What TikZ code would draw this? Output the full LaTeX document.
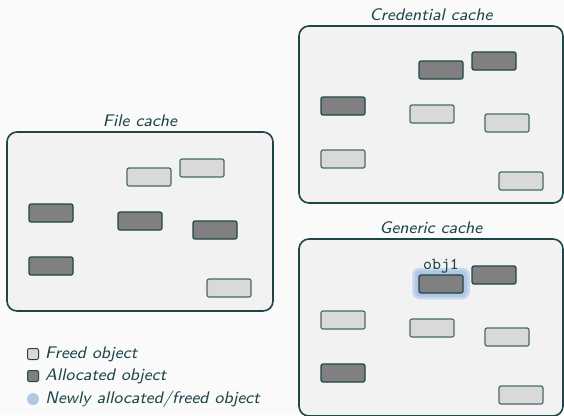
\documentclass[tikz,border=0pt]{standalone}
\usepackage{xcolor}
\usepackage{graphicx}
\usepackage{tikz}
\usetikzlibrary{positioning}
\definecolor{bgcolor}{RGB}{250,250,250}
\definecolor{cachefill}{RGB}{242,242,242}
\definecolor{darkteal}{RGB}{30,70,72}
\definecolor{objline}{RGB}{70,105,106}
\definecolor{freedfill}{RGB}{217,217,217}
\definecolor{allocfill}{RGB}{128,128,128}
\definecolor{newblue}{RGB}{178,198,230}
\newcommand{\captext}[1]{\scalebox{2.1}{\fontsize{8}{10}\selectfont\sffamily\itshape #1}}
\newcommand{\objtext}[1]{\scalebox{2.1}{\fontsize{8}{10}\selectfont\ttfamily #1}}

\begin{document}
\begin{tikzpicture}[x=1pt, y=-1pt,
        cachebox/.style={rectangle, rounded corners=10pt, draw=darkteal, fill=cachefill, line width=1.6pt, minimum width=264pt, minimum height=177pt, inner sep=0pt},
        cachetitle/.style={text=darkteal, inner sep=2pt},
        objbox/.style={rectangle, rounded corners=2pt, draw=objline, line width=1.2pt, minimum width=44pt, minimum height=18pt, inner sep=0pt},
        freed/.style={objbox, fill=freedfill},
        alloc/.style={objbox, fill=allocfill, draw=darkteal},
        legmark/.style={rectangle, rounded corners=2pt, draw=darkteal, line width=1pt, minimum size=11pt, inner sep=0pt},
        legtext/.style={text=darkteal, inner sep=0pt, anchor=west},
    ]
        % Page
        \fill[bgcolor] (0,0) rectangle (564,415);
        \clip (0,0) rectangle (564,415);
        \useasboundingbox (0,0) rectangle (564,415);

        % Caches
        \node[cachebox, minimum width=266pt, minimum height=179pt] (file) at (140,221.5) {};
        \node[cachebox] (cred) at (431,114.5) {};
        \node[cachebox] (gen)  at (431,327.5) {};
        \node[cachetitle, above=2pt of file] (filet) {\captext{File cache}};
        \node[cachetitle, above=2pt of cred] (credt) {\captext{Credential cache}};
        \node[cachetitle, above=2pt of gen]  (gent)  {\captext{Generic cache}};

        % File cache objects
        \node[freed] (f1) at (149,177) {};
        \node[freed] (f2) at (202,168) {};
        \node[alloc] (f3) at (51,213) {};
        \node[alloc] (f4) at (140,221) {};
        \node[alloc] (f5) at (215,230) {};
        \node[alloc] (f6) at (51,266) {};
        \node[freed] (f7) at (229,288) {};

        % Credential cache objects
        \node[alloc] (c1) at (441,70) {};
        \node[alloc] (c2) at (494,61) {};
        \node[alloc] (c3) at (343,106) {};
        \node[freed] (c4) at (432,114) {};
        \node[freed] (c5) at (507,123) {};
        \node[freed] (c6) at (343,159) {};
        \node[freed] (c7) at (521,181) {};

        % Generic cache objects
        \node[rectangle, rounded corners=6pt, fill=newblue, draw=newblue!70, line width=2.5pt, minimum width=55pt, minimum height=29pt] (glow) at (441,283.5) {};
        \node[alloc] (g1) at (441,284) {};
        \node[alloc] (g2) at (494,275) {};
        \node[freed] (g3) at (343,320) {};
        \node[freed] (g4) at (432,328) {};
        \node[freed] (g5) at (507,337) {};
        \node[alloc] (g6) at (343,373) {};
        \node[freed] (g7) at (521,395) {};
        \node[text=darkteal, inner sep=1pt, above=0pt of g1] (obj) {\objtext{obj1}};

        % Legend
        \node[legmark, fill=freedfill] (lfreed) at (33,354) {};
        \node[legmark, fill=allocfill] (lalloc) at (33,376) {};
        \node[circle, fill=newblue, minimum size=12pt, inner sep=0pt] (lnew) at (33,399) {};
        \node[legtext, right=6pt of lfreed] (tfreed) {\captext{Freed object}};
        \node[legtext, right=6pt of lalloc] (talloc) {\captext{Allocated object}};
        \node[legtext, right=6pt of lnew]   (tnew)   {\captext{Newly allocated/freed object}};
    \end{tikzpicture}
\end{document}
